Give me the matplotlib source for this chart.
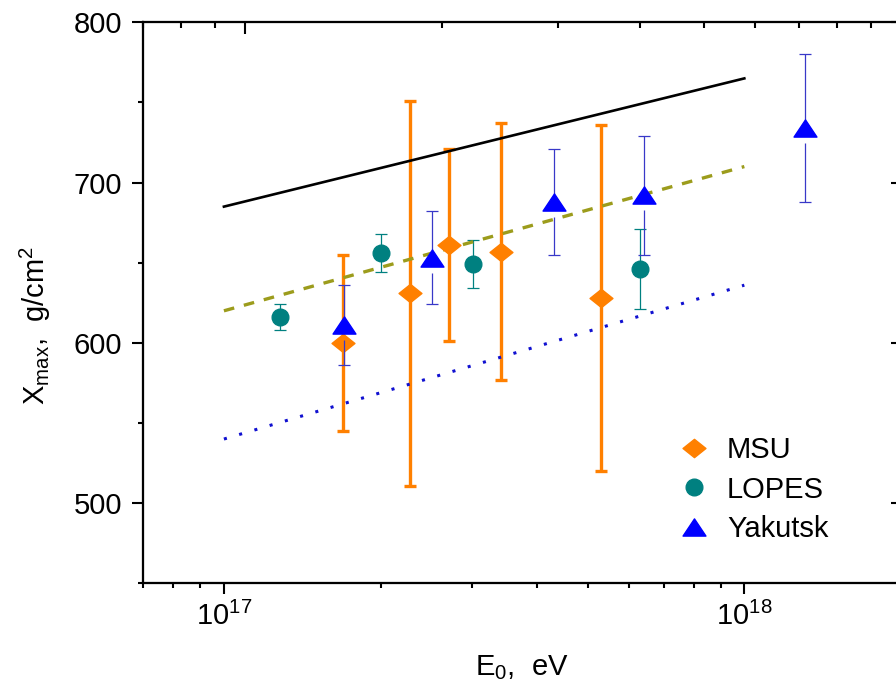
import numpy as np
import matplotlib
matplotlib.use('Agg')
import matplotlib.pyplot as plt
from matplotlib.ticker import LogLocator, NullFormatter, MultipleLocator
from matplotlib.path import Path

# model curves (straight in log E)
model_E = [1e17, 1e18]
model_solid = [685, 765]
model_dashed = [620, 710]
model_dotted = [540, 636]

# MSU
msu_E = [1.69e17, 2.28e17, 2.71e17, 3.41e17, 5.31e17]
msu_X = [600, 631, 661, 657, 628]
msu_err = [55, 120, 60, 80, 108]

# LOPES
lopes_E = [1.28e17, 2.0e17, 3.01e17, 6.31e17]
lopes_X = [616, 656, 649, 646]
lopes_err = [8, 12, 15, 25]

# Yakutsk
yak_E = [1.70e17, 2.51e17, 4.30e17, 6.42e17, 1.306e18]
yak_X = [611, 653, 688, 692, 734]
yak_err = [25, 29, 33, 37, 46]

orange = '#ff8000'
teal = '#008080'
blue = '#0000ff'
yak_bar = '#3838c8'
olive = '#9c9c1c'

plt.rcParams['font.family'] = ['Liberation Sans', 'DejaVu Sans']
plt.rcParams['mathtext.default'] = 'regular'

fig = plt.figure(figsize=(8.96, 6.97), dpi=100)
ax = fig.add_axes([143.3 / 896, 1 - 583.3 / 697, 757.7 / 896, 561 / 697])
ax.set_xscale('log')
ax.set_xlim(7e16, 2e18)
ax.set_ylim(450, 800)

diamond = Path([(0, 0.8), (1, 0), (0, -0.8), (-1, 0), (0, 0.8)],
               [Path.MOVETO, Path.LINETO, Path.LINETO, Path.LINETO, Path.CLOSEPOLY])
triangle = Path([(0, 0.75), (1, -0.75), (-1, -0.75), (0, 0.75)],
                [Path.MOVETO, Path.LINETO, Path.LINETO, Path.CLOSEPOLY])

# MSU error bars
ax.errorbar(msu_E, msu_X, yerr=msu_err, fmt='none', ecolor=orange,
            elinewidth=2.4, capsize=4.4, capthick=2.4, zorder=2)
# LOPES error bars
ax.errorbar(lopes_E, lopes_X, yerr=lopes_err, fmt='none', ecolor=teal,
            elinewidth=0.9, capsize=4.5, capthick=0.9, zorder=2.2)

# model lines
ax.plot(model_E, model_solid, color='black', lw=1.9, zorder=3)
ax.plot(model_E, model_dashed, color=olive, lw=2.4, ls=(0, (3.2, 3.0)), zorder=3)
ax.plot(model_E, model_dotted, color='#1010d0', lw=2.2, ls=(0, (1, 4.2)), zorder=3)

h_msu, = ax.plot(msu_E, msu_X, ls='none', marker=diamond, ms=16.5, color=orange,
                 mec=orange, label='MSU', zorder=4)
h_lopes, = ax.plot(lopes_E, lopes_X, ls='none', marker='o', ms=12, color=teal,
                   mec=teal, label='LOPES', zorder=4)

# Yakutsk error bars: gap below triangle
yak_X = np.array(yak_X, dtype=float)
yak_err = np.array(yak_err, dtype=float)
px_per_unit = ax.transData.transform((1e17, 1))[1] - ax.transData.transform((1e17, 0))[1]
gap = 15 / px_per_unit
ax.vlines(yak_E, yak_X, yak_X + yak_err, color=yak_bar, lw=0.9, zorder=4.5)
ax.vlines(yak_E, yak_X - yak_err, yak_X - gap, color=yak_bar, lw=0.9, zorder=4.5)
ax.plot(yak_E, yak_X + yak_err, ls='none', marker='_', ms=8.5, mew=0.9,
        color=yak_bar, zorder=4.5)
ax.plot(yak_E, yak_X - yak_err, ls='none', marker='_', ms=8.5, mew=0.9,
        color=yak_bar, zorder=4.5)
h_yak, = ax.plot(yak_E, yak_X, ls='none', marker=triangle, ms=16.5, color=blue,
                 mec=blue, label='Yakutsk', zorder=5)

# axes styling
for sp in ax.spines.values():
    sp.set_linewidth(1.5)
ax.xaxis.set_major_locator(LogLocator(base=10))
ax.xaxis.set_minor_locator(LogLocator(base=10, subs=np.arange(2, 10)))
ax.xaxis.set_minor_formatter(NullFormatter())
ax.yaxis.set_major_locator(MultipleLocator(100))
ax.yaxis.set_minor_locator(MultipleLocator(50))
ax.tick_params(which='major', direction='out', length=8, width=1.5,
               labelsize=21, top=False, right=False)
ax.tick_params(which='minor', direction='out', length=3.6, width=1.5,
               top=False, right=False)
ax.tick_params(axis='y', pad=7)
ax.tick_params(axis='x', pad=5)

# top axis (separate log scale, no labels)
ax_top = ax.twiny()
ax_top.set_xscale('log')
ax_top.set_xlim(0.7, 10)
ax_top.xaxis.set_major_locator(LogLocator(base=10))
ax_top.xaxis.set_minor_locator(LogLocator(base=10, subs=np.arange(2, 10)))
ax_top.xaxis.set_major_formatter(NullFormatter())
ax_top.xaxis.set_minor_formatter(NullFormatter())
ax_top.tick_params(which='major', direction='in', length=8.6, width=1.5)
ax_top.tick_params(which='minor', direction='in', length=4.3, width=1.5)

# right axis ticks
ax_r = ax.twinx()
ax_r.set_ylim(450, 800)
ax_r.yaxis.set_major_locator(MultipleLocator(100))
ax_r.yaxis.set_minor_locator(MultipleLocator(50))
ax_r.yaxis.set_major_formatter(NullFormatter())
ax_r.tick_params(which='major', direction='in', length=7.2, width=1.5)
ax_r.tick_params(which='minor', direction='in', length=3.6, width=1.5)
for a in (ax_top, ax_r):
    for sp in a.spines.values():
        sp.set_linewidth(1.5)

ax.set_xlabel(r'E$_0$,  eV', fontsize=21)
ax.xaxis.set_label_coords(0.5, -0.125)
ax.set_ylabel(r'X$_{max}$,  g/cm$^2$', fontsize=21)
ax.yaxis.set_label_coords(-0.119, 0.459)

leg = ax.legend(handles=[h_msu, h_lopes, h_yak], loc='upper left',
                bbox_to_anchor=(679 / 896, 1 - 436 / 697),
                bbox_transform=fig.transFigure, frameon=False, fontsize=21,
                borderpad=0, borderaxespad=0, handlelength=1.0,
                handletextpad=0.64, labelspacing=0.40, numpoints=1)

fig.savefig('out.png', dpi=100)
